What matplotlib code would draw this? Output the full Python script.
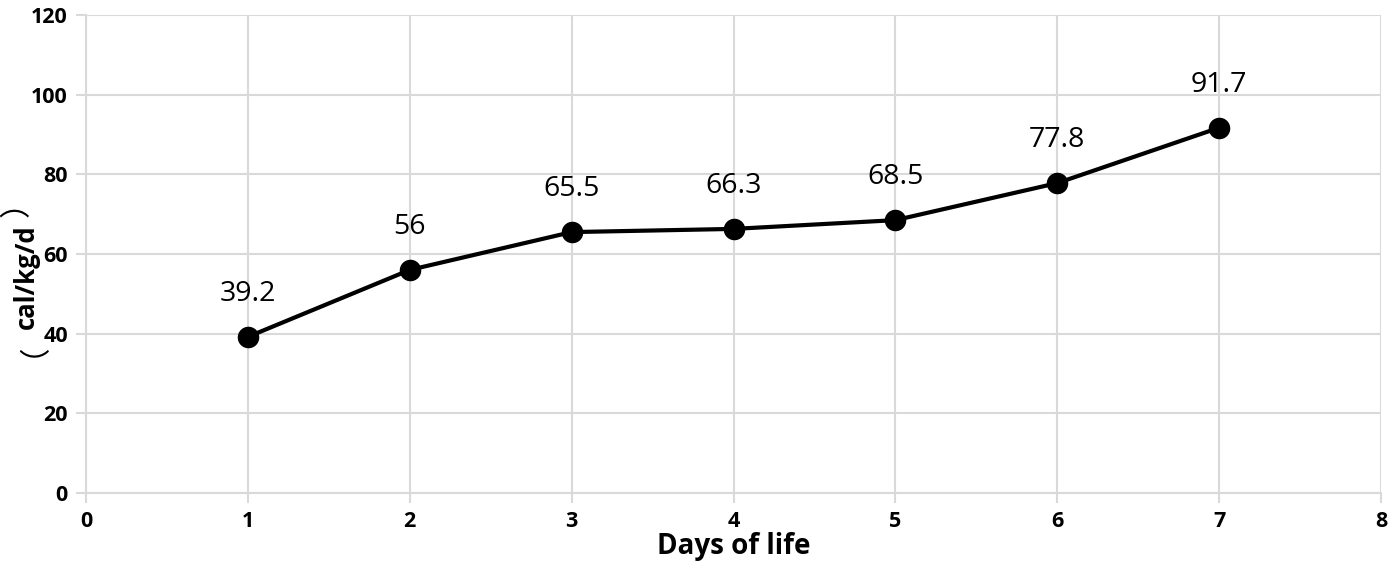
import matplotlib
matplotlib.use("Agg")
import matplotlib.pyplot as plt

days = [1, 2, 3, 4, 5, 6, 7]
values = [39.2, 56, 65.5, 66.3, 68.5, 77.8, 91.7]
labels = ["39.2", "56", "65.5", "66.3", "68.5", "77.8", "91.7"]
xticks = [0, 1, 2, 3, 4, 5, 6, 7, 8]
yticks = [0, 20, 40, 60, 80, 100, 120]
x_title = "Days of life"
y_unit = "cal/kg/d"
y_open, y_close = "（", "）"

plt.rcParams['font.family'] = ['Open Sans', 'DejaVu Sans']

W, H = 1395, 572
fig = plt.figure(figsize=(W / 100, H / 100), dpi=100)
ax = fig.add_axes([86/W, 1-493/H, (1381-86)/W, (493-15)/H])

grid_c = '#d9d9d9'
ax.set_xlim(0, 8)
ax.set_ylim(0, 120)
ax.set_xticks(xticks)
ax.set_yticks(yticks)
ax.grid(True, color=grid_c, linewidth=1.5, zorder=0)
ax.set_axisbelow(True)
for s in ['top', 'right']:
    ax.spines[s].set_visible(False)
for s in ['left', 'bottom']:
    ax.spines[s].set_color(grid_c)
    ax.spines[s].set_linewidth(1.5)
ax.tick_params(axis='both', direction='out', length=7, width=1.5, color=grid_c,
               labelsize=15.5, pad=6)
for t in ax.get_xticklabels() + ax.get_yticklabels():
    t.set_fontweight('bold')

ax.plot(days, values, color='black', linewidth=3, marker='o', markersize=14.5,
        zorder=3, clip_on=False)
for d, v, l in zip(days, values, labels):
    ax.annotate(l, (d, v), xytext=(0, 26), textcoords='offset points',
                ha='center', va='baseline', fontsize=20.5)

ax.set_xlabel(x_title, fontsize=20, fontweight='bold', labelpad=0)

# y-axis title: bold unit with thin full-width parentheses
fig.text(26/W, 1-277/H, y_unit, rotation=90, ha='center', va='center',
         fontsize=18.5, fontweight='bold')
cjk = ['Noto Sans CJK SC', 'DejaVu Sans']
fig.text(17/W, 1-202/H, y_close, rotation=90, ha='center', va='center',
         fontsize=22, fontweight='light', family=cjk)
fig.text(17/W, 1-342/H, y_open, rotation=90, ha='center', va='center',
         fontsize=22, fontweight='light', family=cjk)

fig.savefig('out.png', dpi=100)
